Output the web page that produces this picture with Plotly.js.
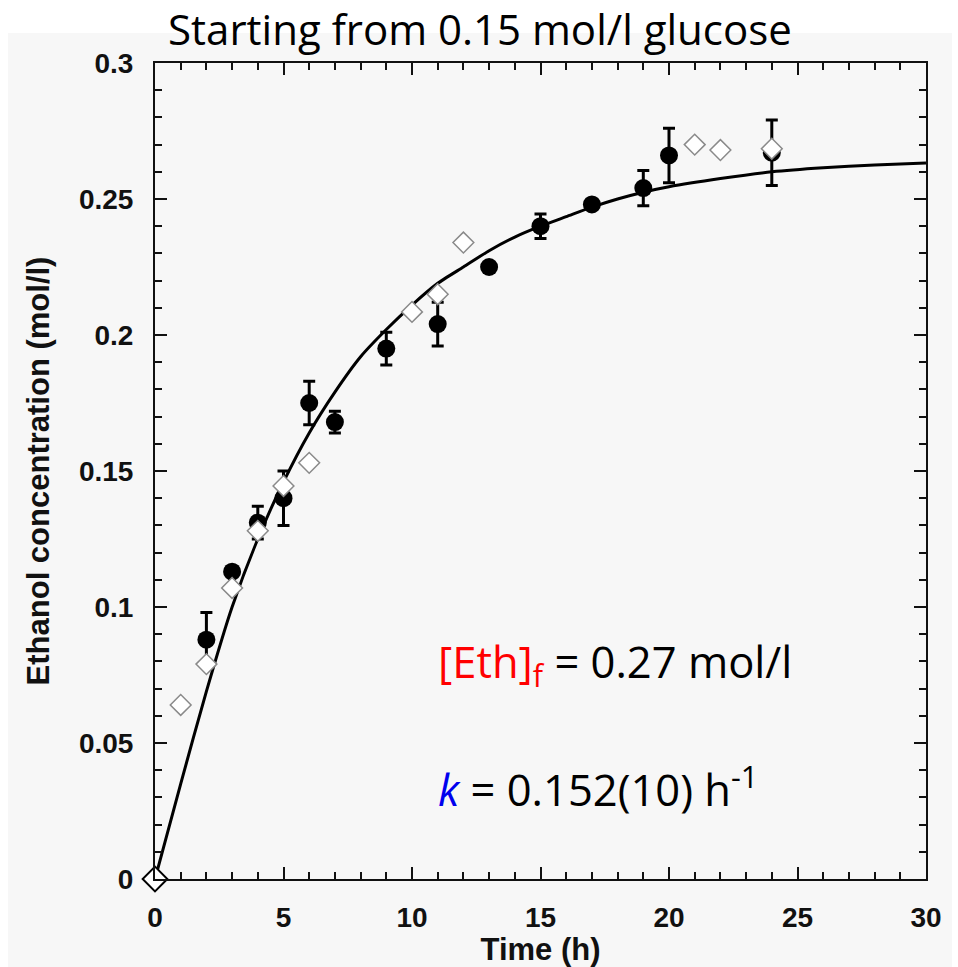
<!DOCTYPE html>
<html>
<head>
<meta charset="utf-8">
<script src="https://cdn.plot.ly/plotly-3.0.1.min.js"></script>
<style>
  html, body { margin: 0; padding: 0; background: #ffffff; }
  #chart { width: 958px; height: 967px; }
</style>
</head>
<body>
<div id="chart"></div>
<script>
// Measured ethanol concentration (mol/l) vs time (h), with standard errors
const circleTime  = [2, 3, 4, 5, 6, 7, 9, 11, 13, 15, 17, 19, 20, 24];
const circleConc  = [0.088, 0.113, 0.131, 0.140, 0.175, 0.168, 0.195, 0.204, 0.225, 0.240, 0.248, 0.254, 0.266, 0.267];
const circleError = [0.010, 0, 0.006, 0.010, 0.008, 0.004, 0.006, 0.008, 0, 0.0045, 0, 0.0065, 0.010, 0.012];

// Replicate series (open diamonds)
const diamondTime = [0, 1, 2, 3, 4, 5, 6, 10, 11, 12, 21, 22, 24];
const diamondConc = [0, 0.064, 0.079, 0.107, 0.128, 0.1445, 0.153, 0.2085, 0.215, 0.234, 0.270, 0.268, 0.2685];

// First-order fit curve
const fitTime = [0, 1, 2, 3, 4, 5, 6, 7, 8, 9, 10, 11, 12, 13, 14, 15, 16, 17, 18, 19, 20, 22, 24, 26, 28, 30];
const fitConc = [0, 0.035, 0.069, 0.100, 0.125, 0.146, 0.164, 0.179, 0.192, 0.202, 0.211, 0.219, 0.225, 0.231,
                 0.236, 0.240, 0.2435, 0.247, 0.250, 0.2525, 0.2545, 0.2575, 0.260, 0.2615, 0.2625, 0.2632];

const xTickVals = [0, 5, 10, 15, 20, 25, 30];
const yTickVals = [0, 0.05, 0.1, 0.15, 0.2, 0.25, 0.3];
const yTickText = ['0', '0.05', '0.1', '0.15', '0.2', '0.25', '0.3'];

const tickFont = { family: 'Liberation Sans, Arial, sans-serif', size: 28, color: '#111111', weight: 'bold' };
const titleFont = { family: 'Liberation Sans, Arial, sans-serif', size: 31, color: '#111111', weight: 'bold' };
const noteFont = { family: 'Open Sans, sans-serif', size: 43.5, color: '#000000' };

const traces = [
  {
    x: fitTime, y: fitConc, type: 'scatter', mode: 'lines',
    line: { color: '#000000', width: 3, shape: 'spline', smoothing: 0.6 },
    hoverinfo: 'skip', showlegend: false
  },
  {
    x: circleTime, y: circleConc, type: 'scatter', mode: 'markers',
    marker: { symbol: 'circle', size: 18, color: '#000000' },
    error_y: { type: 'data', array: circleError, visible: true, color: '#000000', thickness: 3, width: 6 },
    showlegend: false
  },
  {
    x: diamondTime, y: diamondConc, type: 'scatter', mode: 'markers',
    marker: {
      symbol: 'diamond', opacity: 1, color: '#ffffff',
      size: diamondTime.map(t => t === 0 ? 19 : 16),
      line: { width: diamondTime.map(t => t === 0 ? 2 : 1.5), color: diamondTime.map(t => t === 0 ? '#000000' : '#8a8a8a') }
    },
    cliponaxis: false,
    showlegend: false
  }
];

const axisCommon = {
  showgrid: false, zeroline: false,
  showline: true, linecolor: '#111111', linewidth: 2,
  mirror: 'ticks', ticks: 'inside', ticklen: 12, tickwidth: 2, tickcolor: '#111111',
  tickfont: tickFont
};

const layout = {
  width: 958, height: 967,
  margin: { l: 155, r: 32, t: 63, b: 88 },
  paper_bgcolor: '#ffffff',
  plot_bgcolor: 'rgba(0,0,0,0)',
  showlegend: false,
  title: {
    text: 'Starting from 0.15 mol/l glucose',
    font: { family: 'Open Sans, sans-serif', size: 42, color: '#000000' },
    xref: 'container', x: 0.501, xanchor: 'center',
    yref: 'container', y: 1 - 30 / 967, yanchor: 'middle'
  },
  xaxis: Object.assign({}, axisCommon, {
    range: [0, 30], tickvals: xTickVals,
    minor: { dtick: 1, ticks: 'inside', ticklen: 7, tickwidth: 2, tickcolor: '#111111' },
    ticklabelstandoff: 12,
    title: { text: 'Time (h)', font: titleFont, standoff: 4 }
  }),
  yaxis: Object.assign({}, axisCommon, {
    range: [0, 0.3], tickvals: yTickVals, ticktext: yTickText,
    minor: { dtick: 0.01, ticks: 'inside', ticklen: 7, tickwidth: 2, tickcolor: '#111111' },
    ticklabelstandoff: 14,
    title: { text: 'Ethanol concentration (mol/l)', font: titleFont, standoff: 20 }
  }),
  shapes: [
    {
      type: 'rect', xref: 'paper', yref: 'paper', layer: 'below',
      x0: -0.1907, x1: 1.0337, y0: -0.1078, y1: 1.0368,
      fillcolor: '#f7f7f7', line: { width: 0 }
    }
  ],
  annotations: [
    {
      xref: 'x', yref: 'y', x: 10.95, y: 0.079, xanchor: 'left', yanchor: 'middle',
      showarrow: false, font: noteFont,
      text: '<span style="color:#ff0000">[Eth]<sub>f</sub></span> = 0.27 mol/l'
    },
    {
      xref: 'x', yref: 'y', x: 10.95, y: 0.034, xanchor: 'left', yanchor: 'middle',
      showarrow: false, font: noteFont,
      text: '<i><span style="color:#0000ee">k</span></i> = 0.152(10) h<sup>-1</sup>'
    }
  ]
};

Plotly.newPlot('chart', traces, layout, { displayModeBar: false, staticPlot: true });
</script>
</body>
</html>
